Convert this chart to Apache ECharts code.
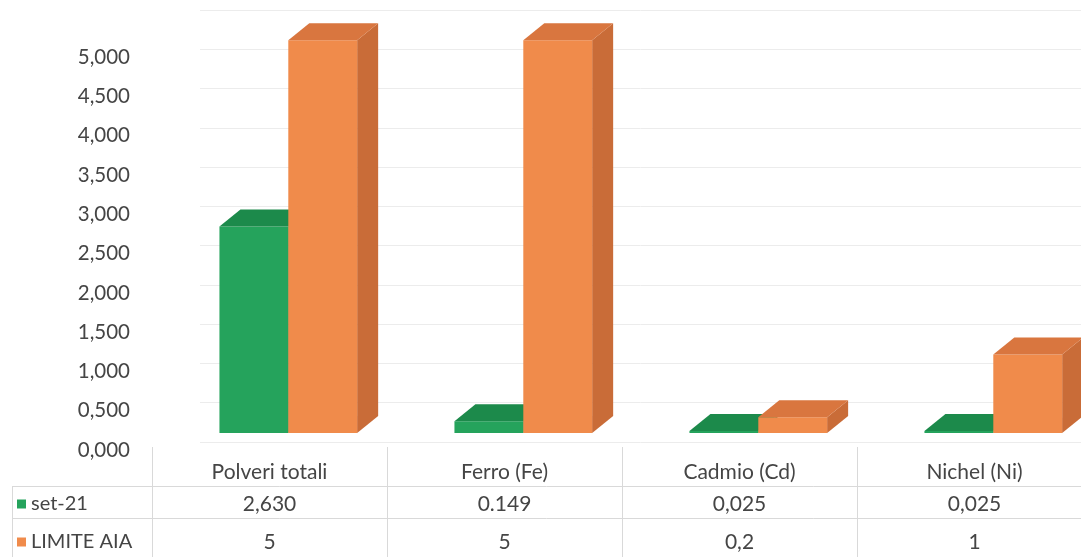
<!DOCTYPE html>
<html>
<head>
<meta charset="utf-8">
<script src="https://cdn.jsdelivr.net/npm/echarts@6/dist/echarts.min.js"></script>
<style>
  html, body { margin: 0; padding: 0; background: #ffffff; }
  #chart { width: 1081px; height: 557px; }
</style>
</head>
<body>
<div id="chart"></div>
<script>
// Sampling categories
const categories = ['Polveri totali', 'Ferro (Fe)', 'Cadmio (Cd)', 'Nichel (Ni)'];
// Measured values (set-21) and AIA permit limits
const setValues = [2.630, 0.149, 0.025, 0.025];
const limitValues = [5, 5, 0.2, 1];
// Texts shown in the data table rows
const setLabels = ['2,630', '0.149', '0,025', '0,025'];
const limitLabels = ['5', '5', '0,2', '1'];
// Value axis ticks
const yTicks = ['0,000', '0,500', '1,000', '1,500', '2,000', '2,500', '3,000', '3,500', '4,000', '4,500', '5,000'];
const seriesNames = ['set-21', 'LIMITE AIA'];

const FONT = 'Lato, "Open Sans", sans-serif';
const TEXT = '#454545';
const LINE = '#d9d9d9';
const TABLE_FS = 21;

// Face colours of the pseudo-3D columns: front, top, side
const faces = [
  { front: '#25a35c', top: '#1c8a4b', side: '#1a7d44' },
  { front: '#f08b4b', top: '#d9763f', side: '#c96c38' }
];
// Horizontal placement of each column inside its category band (fraction of band width)
const colStart = [-0.213, 0.08];
const colWidth = 0.293;
const DX = 21, DY = -17, LIFT = 9;

function boxRenderer(si) {
  return function (params, api) {
    const idx = api.value(0);
    const v = api.value(1);
    const base = api.coord([idx, 0]);
    const top = api.coord([idx, v]);
    const bw = api.size([1, 0])[0];
    const w = bw * colWidth;
    const x0 = base[0] + colStart[si] * bw;
    const yb = base[1] - LIFT;
    const yt = top[1] - LIFT;
    const c = faces[si];
    return {
      type: 'group',
      children: [
        { type: 'polygon', shape: { points: [[x0 + w, yt], [x0 + w + DX, yt + DY], [x0 + w + DX, yb + DY], [x0 + w, yb]] },
          style: { fill: c.side } },
        { type: 'rect', shape: { x: x0, y: yt, width: w, height: Math.max(yb - yt, 0.5) },
          style: { fill: c.front } },
        { type: 'polygon', shape: { points: [[x0, yt], [x0 + DX, yt + DY], [x0 + w + DX, yt + DY], [x0 + w, yt]] },
          style: { fill: c.top } }
      ]
    };
  };
}

const chart = echarts.init(document.getElementById('chart'), null, { renderer: 'canvas' });

const hiddenAxis = { show: true, axisLine: { show: false }, axisTick: { show: false }, splitLine: { show: false } };
const tableLabel = { margin: 20, fontSize: TABLE_FS, color: TEXT, fontFamily: FONT };

const option = {
  backgroundColor: '#ffffff',
  animation: false,
  textStyle: { fontFamily: FONT },
  grid: [
    // back wall with gridlines
    { left: 200, right: 0, top: 10, bottom: 115, outerBoundsMode: 'none', containLabel: false },
    // columns and data table
    { left: 152, width: 940, top: 10, bottom: 115, outerBoundsMode: 'none', containLabel: false },
    // value axis labels
    { left: 200, right: 0, top: 18, bottom: 107, outerBoundsMode: 'none', containLabel: false }
  ],
  legend: [
    { left: 12, top: 489, itemWidth: 9, itemHeight: 9, icon: 'rect', selectedMode: false,
      data: [seriesNames[0]], textStyle: { fontFamily: FONT, fontSize: 20, color: TEXT } },
    { left: 12, top: 527, itemWidth: 9, itemHeight: 9, icon: 'rect', selectedMode: false,
      data: [seriesNames[1]], textStyle: { fontFamily: FONT, fontSize: 20, color: TEXT } }
  ],
  xAxis: [
    { gridIndex: 0, type: 'category', data: categories, show: false },
    Object.assign({}, hiddenAxis, { gridIndex: 1, type: 'category', data: categories, axisLabel: tableLabel }),
    Object.assign({}, hiddenAxis, { gridIndex: 1, type: 'category', data: setLabels, position: 'bottom', offset: 32, axisLabel: tableLabel }),
    Object.assign({}, hiddenAxis, { gridIndex: 1, type: 'category', data: limitLabels, position: 'bottom', offset: 70, axisLabel: tableLabel }),
    { gridIndex: 2, type: 'category', data: categories, show: false }
  ],
  yAxis: [
    { gridIndex: 0, type: 'value', min: 0, max: 5.5, interval: 0.5,
      axisLine: { show: false }, axisTick: { show: false }, axisLabel: { show: false },
      splitLine: { lineStyle: { color: '#ececec', width: 1 } } },
    { gridIndex: 1, type: 'value', min: 0, max: 5.5, interval: 0.5, show: false },
    { gridIndex: 2, type: 'value', min: 0, max: 5.5, interval: 0.5,
      axisLine: { show: false }, axisTick: { show: false }, splitLine: { show: false },
      axisLabel: {
        margin: 70, fontSize: 20.5, color: TEXT, fontFamily: FONT,
        formatter: function (val) {
          const i = Math.round(val / 0.5);
          return i < yTicks.length ? yTicks[i] : '';
        }
      } }
  ],
  series: [
    { name: seriesNames[0], type: 'custom', xAxisIndex: 1, yAxisIndex: 1, color: faces[0].front,
      renderItem: boxRenderer(0), data: setValues.map((v, i) => [i, v]) },
    { name: seriesNames[1], type: 'custom', xAxisIndex: 1, yAxisIndex: 1, color: faces[1].front,
      renderItem: boxRenderer(1), data: limitValues.map((v, i) => [i, v]) }
  ]
};

chart.setOption(option);

// Data table grid lines below the plot
function tableLines() {
  const half = chart.convertToPixel({ xAxisIndex: 1 }, 1) - chart.convertToPixel({ xAxisIndex: 1 }, 0);
  const els = [];
  for (let i = 0; i < categories.length; i++) {
    const x = Math.round(chart.convertToPixel({ xAxisIndex: 1 }, i) - half / 2) + 0.5;
    els.push({ type: 'line', shape: { x1: x, y1: 447, x2: x, y2: 557 }, style: { stroke: LINE, lineWidth: 1 } });
  }
  els.push({ type: 'line', shape: { x1: 12.5, y1: 486, x2: 12.5, y2: 557 }, style: { stroke: LINE, lineWidth: 1 } });
  [486.5, 518.5].forEach(y => {
    els.push({ type: 'line', shape: { x1: 12, y1: y, x2: 1081, y2: y }, style: { stroke: LINE, lineWidth: 1 } });
  });
  chart.setOption({ graphic: { elements: els } });
}
tableLines();
</script>
</body>
</html>
